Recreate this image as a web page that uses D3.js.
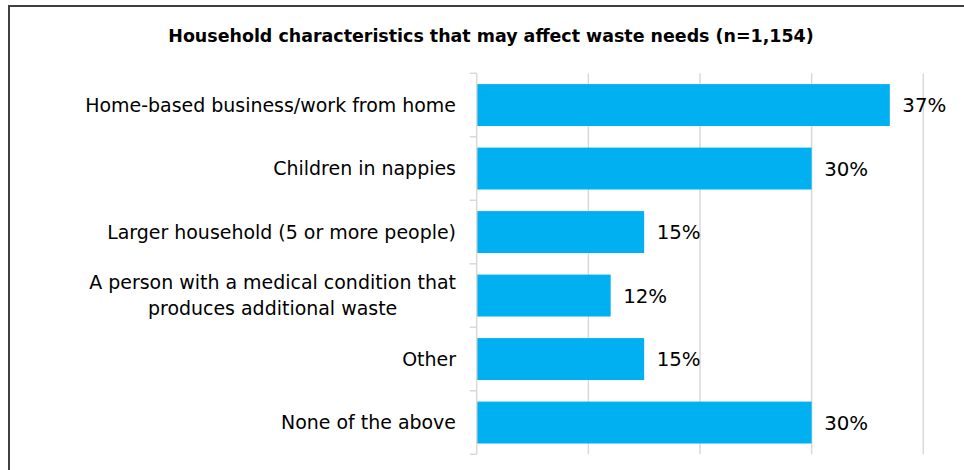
<!DOCTYPE html>
<html>
<head>
<meta charset="utf-8">
<script src="https://cdn.jsdelivr.net/npm/d3@7"></script>
<style>
  html, body { margin: 0; padding: 0; background: #fff; }
  svg { display: block; }
  text { font-family: "DejaVu Sans", "Open Sans", sans-serif; fill: #000; }
</style>
</head>
<body>
<svg id="chart" width="964" height="470"></svg>
<script>
// Survey results
const categories = [
  ["Home-based business/work from home"],
  ["Children in nappies"],
  ["Larger household (5 or more people)"],
  ["A person with a medical condition that", "produces additional waste"],
  ["Other"],
  ["None of the above"]
];
const values = [37, 30, 15, 12, 15, 30];
const gridTicks = [0, 10, 20, 30, 40];
const title = "Household characteristics that may affect waste needs (n=1,154)";

const svg = d3.select("#chart");
const W = 964, H = 470;

// Size a font so the given text spans the wanted width
function fitSize(text, base, weight, wanted) {
  const probe = svg.append("text")
    .attr("font-size", base).attr("font-weight", weight).text(text);
  const w = probe.node().getComputedTextLength();
  probe.remove();
  return base * wanted / w;
}

// Frame (top and left edges visible)
svg.append("path")
  .attr("d", `M9,${H} L9,6 L${W},6`)
  .attr("fill", "none")
  .attr("stroke", "#404040")
  .attr("stroke-width", 2);

const plotLeft = 476.7, plotRight = 923.3, plotTop = 73.3, plotBottom = 454.3;

const x = d3.scaleLinear().domain([0, 40]).range([plotLeft, plotRight]);
const y = d3.scaleBand()
  .domain(d3.range(categories.length))
  .range([plotTop, plotBottom])
  .paddingInner(0.34)
  .paddingOuter(0.17);

// Vertical gridlines
svg.append("g")
  .selectAll("line")
  .data(gridTicks.slice(1))
  .join("line")
  .attr("x1", d => x(d)).attr("x2", d => x(d))
  .attr("y1", plotTop).attr("y2", plotBottom)
  .attr("stroke", "#d9d9d9")
  .attr("stroke-width", 1.5);

// Bars
svg.append("g")
  .selectAll("rect")
  .data(values)
  .join("rect")
  .attr("x", x(0))
  .attr("y", (d, i) => y(i))
  .attr("width", d => x(d) - x(0))
  .attr("height", y.bandwidth())
  .attr("fill", "#00b0f0");

// Category axis with boundary ticks
const axisG = svg.append("g");
axisG.append("line")
  .attr("x1", plotLeft).attr("x2", plotLeft)
  .attr("y1", plotTop).attr("y2", plotBottom)
  .attr("stroke", "#d9d9d9").attr("stroke-width", 1.5);
const boundaries = d3.range(categories.length + 1).map(i => plotTop + i * y.step());
axisG.selectAll("line.tick")
  .data(boundaries)
  .join("line")
  .attr("class", "tick")
  .attr("x1", plotLeft - 7).attr("x2", plotLeft)
  .attr("y1", d => d).attr("y2", d => d)
  .attr("stroke", "#d9d9d9").attr("stroke-width", 1.5);

// Category labels: block right-aligned, multi-line text centred within it
const labelSize = fitSize(categories[0][0], 18, "normal", 371);
const labG = svg.append("g").attr("font-size", labelSize);
categories.forEach((lines, i) => {
  const cy = y(i) + y.bandwidth() / 2;
  const lh = 26;
  const widths = lines.map(ln => {
    const p = labG.append("text").text(ln);
    const w = p.node().getComputedTextLength();
    p.remove();
    return w;
  });
  const blockW = d3.max(widths);
  const t = labG.append("text").attr("text-anchor", "middle");
  lines.forEach((ln, k) => {
    t.append("tspan")
      .attr("x", 456 - blockW / 2)
      .attr("y", cy + (k - (lines.length - 1) / 2) * lh)
      .attr("dy", "0.36em")
      .text(ln);
  });
});

// Value labels
const valueSize = fitSize("37%", 19, "normal", 44);
svg.append("g")
  .attr("font-size", valueSize)
  .selectAll("text")
  .data(values)
  .join("text")
  .attr("x", d => x(d) + 12.5)
  .attr("y", (d, i) => y(i) + y.bandwidth() / 2)
  .attr("dy", "0.36em")
  .text(d => d + "%");

// Title
svg.append("text")
  .attr("x", 491)
  .attr("y", 42)
  .attr("text-anchor", "middle")
  .attr("font-size", fitSize(title, 18, "bold", 646))
  .attr("font-weight", "bold")
  .text(title);
</script>
</body>
</html>
